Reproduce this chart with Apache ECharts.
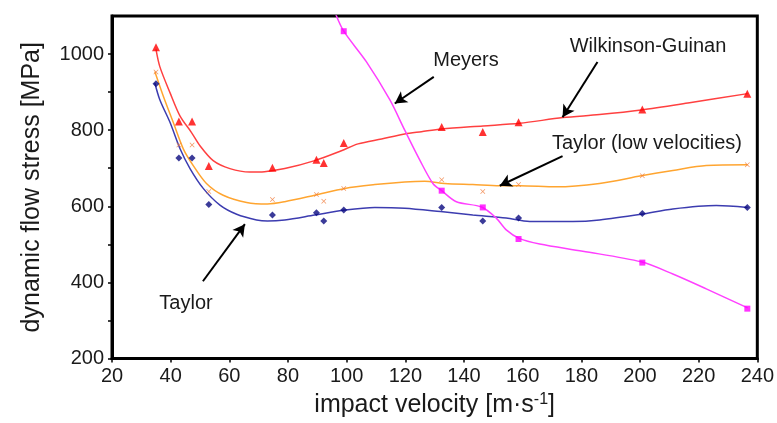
<!DOCTYPE html>
<html>
<head>
<meta charset="utf-8">
<script src="https://cdn.jsdelivr.net/npm/echarts@6/dist/echarts.min.js"></script>
<style>
html,body{margin:0;padding:0;background:#fff;}
#chart{width:777px;height:423px;}
</style>
</head>
<body>
<div id="chart"></div>
<script>
// ---- measured points ----
const pointVelocity = [35, 42.8, 47.3, 53, 74.7, 89.7, 92.2, 99, 132.4, 146.4, 158.6, 200.8, 236.6];
const wgPoints      = [1018, 823, 823, 706, 701, 722, 714, 766, 808, 795, 821, 854, 896];
const taylorLowPts  = [953, 761, 761, 639, 618, 631, 613, 647, 670, 639, 657, 680, 709];
const taylorPoints  = [922, 727, 727, 605, 577, 583, 561, 590, 597, 561, 569, 581, 597];
const meyersVelocity = [99, 132.4, 146.4, 158.6, 200.8, 236.6];
const meyersPoints   = [1060, 641, 597, 514, 452, 331];

// ---- fitted curves ----
const wgCurveX = [35, 36.3, 39.8, 43.2, 47, 50, 54.5, 60.2, 67, 72, 78.9, 89.1, 98.2, 103.9, 111.9, 119.8, 125.5, 132.3, 146.5, 159, 173.7, 186.2, 200.4, 216.9, 236.7];
const wgCurveY = [1012, 967, 898, 837, 795, 759, 720, 699, 690, 691, 699, 720, 746, 764, 777, 790, 796, 803, 811, 818, 833, 841, 853, 872, 896];
const tlCurveX = [34.6, 37.5, 40.9, 44.3, 47.7, 52.2, 57.9, 65.9, 73, 78.9, 89.1, 99.4, 109.6, 119.8, 126.6, 133.4, 143, 152.2, 159, 171.5, 186.2, 200.4, 211.2, 222.6, 236.7];
const tlCurveY = [954, 889, 820, 751, 707, 660, 629, 610, 606, 612, 629, 647, 657, 664, 666, 660, 657, 654, 654, 651, 660, 680, 694, 707, 709];
const tCurveX = [34.6, 36.3, 39.8, 43.2, 46.6, 51.1, 56.8, 62.5, 69.3, 73, 78.9, 89.1, 99.4, 109.6, 119.8, 132, 143, 154.4, 162.4, 177.1, 186.2, 200.4, 211.2, 226, 236.7];
const tCurveY = [924, 880, 820, 751, 699, 647, 603, 579, 564, 561, 564, 577, 590, 597, 595, 586, 577, 569, 560, 560, 564, 579, 593, 602, 597];
const mCurveX = [96, 99, 106.7, 114.7, 119.8, 124.9, 129.4, 132.4, 137.4, 146, 151, 154.4, 159, 165.8, 180.5, 200.4, 211.2, 222.6, 236.7];
const mCurveY = [1110, 1060, 980, 880, 800, 722, 660, 641, 612, 598, 569, 538, 515, 501, 482, 454, 422, 383, 333];

// ---- axes ----
const xTicks = [20, 40, 60, 80, 100, 120, 140, 160, 180, 200, 220, 240];
const yTicks = [200, 400, 600, 800, 1000];
const yMinorTicks = [200, 300, 400, 500, 600, 700, 800, 900, 1000];

// ---- annotation arrows (data coords) ----
const arrows = [
  [[129.7, 940], [116.4, 870]],
  [[185.5, 979], [173.6, 834]],
  [[173.6, 732], [152.2, 654]],
  [[51, 403], [65.3, 553]]
];

const zip = (xs, ys) => xs.map((x, i) => [x, ys[i]]);
const FONT = '"Liberation Sans", Arial, sans-serif';
const xMark = 'path://M1,0 L5,4 L9,0 L10,1 L6,5 L10,9 L9,10 L5,6 L1,10 L0,9 L4,5 L0,1 Z';

const chart = echarts.init(document.getElementById('chart'));
chart.setOption({
  animation: false,
  backgroundColor: '#fff',
  grid: { left: 112, right: 18, top: 16, bottom: 61, show: true, borderColor: '#000', borderWidth: 3 },
  xAxis: {
    type: 'value', min: 20, max: 240, interval: 20,
    name: 'impact velocity [m·s{sup|-1}]',
    nameLocation: 'middle', nameGap: 33,
    nameTextStyle: { fontFamily: FONT, fontSize: 25, color: '#1a1a1a',
      rich: { sup: { fontFamily: FONT, fontSize: 16, color: '#1a1a1a', verticalAlign: 'top', padding: [0, 0, 12, 0] } } },
    axisLine: { show: true, lineStyle: { color: '#000', width: 3 } },
    axisTick: { show: true, inside: false, length: 4, lineStyle: { color: '#000', width: 1.5 }, customValues: xTicks },
    axisLabel: { fontFamily: FONT, fontSize: 20, color: '#1a1a1a', margin: 8, customValues: xTicks },
    splitLine: { show: false }
  },
  yAxis: {
    type: 'value', min: 200, max: 1100, interval: 100,
    name: 'dynamic flow stress [MPa]',
    nameLocation: 'middle', nameGap: 67,
    nameTextStyle: { fontFamily: FONT, fontSize: 25, color: '#1a1a1a' },
    axisLine: { show: true, lineStyle: { color: '#000', width: 3 } },
    axisTick: { show: true, inside: false, length: 4, lineStyle: { color: '#000', width: 1.5 }, customValues: yMinorTicks },
    axisLabel: { fontFamily: FONT, fontSize: 20, color: '#1a1a1a', margin: 8, customValues: yTicks, formatter: v => String(v) },
    splitLine: { show: false }
  },
  series: [
    { type: 'line', data: zip(wgCurveX, wgCurveY), smooth: 0.3, showSymbol: false, lineStyle: { color: '#ff4040', width: 1.5 }, z: 2,
      markLine: {
        silent: true, symbol: ['none', 'arrow'], symbolSize: [10, 12],
        lineStyle: { color: '#000', width: 2, type: 'solid' }, label: { show: false },
        data: arrows.map(a => [{ coord: a[0] }, { coord: a[1] }])
      } },
    { type: 'line', data: zip(tlCurveX, tlCurveY), smooth: 0.3, showSymbol: false, lineStyle: { color: '#ffa530', width: 1.5 }, z: 2 },
    { type: 'line', data: zip(tCurveX, tCurveY), smooth: 0.3, showSymbol: false, lineStyle: { color: '#3c3cb0', width: 1.5 }, z: 2 },
    { type: 'line', data: zip(mCurveX, mCurveY), smooth: 0.3, showSymbol: false, lineStyle: { color: '#ff40ff', width: 1.5 }, z: 2, clip: true },
    { type: 'scatter', data: zip(pointVelocity, wgPoints), symbol: 'triangle', symbolSize: 8, itemStyle: { color: '#ff0000' }, z: 3 },
    { type: 'scatter', data: zip(pointVelocity, taylorLowPts), symbol: xMark, symbolSize: 5, itemStyle: { color: '#f07a3a' }, z: 3 },
    { type: 'scatter', data: zip(pointVelocity, taylorPoints), symbol: 'diamond', symbolSize: 7, itemStyle: { color: '#0a0a80' }, z: 3 },
    { type: 'scatter', data: zip(meyersVelocity, meyersPoints), symbol: 'rect', symbolSize: 6, itemStyle: { color: '#ff00ff' }, z: 3 }
  ],
  graphic: [
    { type: 'text', x: 466, y: 60, style: { text: 'Meyers', font: '20px ' + FONT, fill: '#1a1a1a', align: 'center', verticalAlign: 'middle' } },
    { type: 'text', x: 648, y: 46, style: { text: 'Wilkinson-Guinan', font: '20px ' + FONT, fill: '#1a1a1a', align: 'center', verticalAlign: 'middle' } },
    { type: 'text', x: 647, y: 143, style: { text: 'Taylor (low velocities)', font: '20px ' + FONT, fill: '#1a1a1a', align: 'center', verticalAlign: 'middle' } },
    { type: 'text', x: 186, y: 303, style: { text: 'Taylor', font: '20px ' + FONT, fill: '#1a1a1a', align: 'center', verticalAlign: 'middle' } }
  ]
});
</script>
</body>
</html>
